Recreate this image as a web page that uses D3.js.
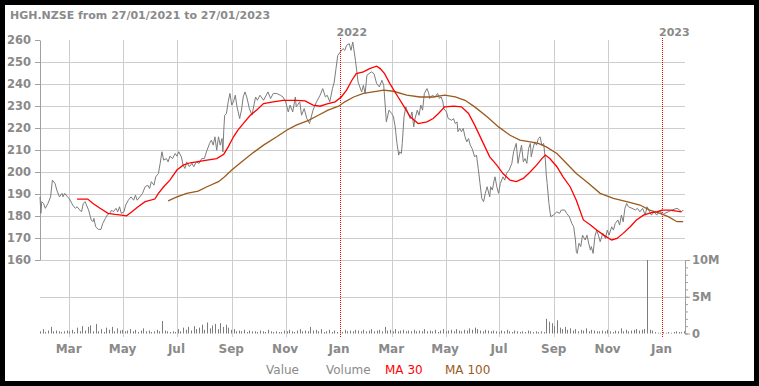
<!DOCTYPE html>
<html><head><meta charset="utf-8">
<script src="https://cdn.jsdelivr.net/npm/d3@7"></script>
<style>
html,body{margin:0;padding:0;background:#000;}
svg{display:block;}
text{font-family:"DejaVu Sans",Verdana,sans-serif;}
</style></head><body>
<svg id="chart" width="759" height="386"></svg>
<script>
// ---- data ----
const titleText = "HGH.NZSE from 27/01/2021 to 27/01/2023";
const startDate = new Date(2021, 0, 27);
const endDate = new Date(2023, 0, 27);
// days since 27/01/2021 and closing value
const priceDay = [0,1,2,4,6,9,12,14,17,19,22,25,26,28,31,33,37,40,42,45,47,49,51,55,58,60,61,63,66,69,71,74,76,79,81,83,86,88,90,92,95,97,100,103,106,108,110,113,116,119,122,124,126,129,131,134,136,138,140,143,145,147,150,153,155,157,160,162,164,166,169,172,174,177,180,183,186,189,192,194,196,198,200,202,204,206,207,208,209,211,213,215,217,219,221,223,226,228,230,232,234,237,240,241,244,246,249,253,258,261,264,268,272,275,278,281,283,286,289,290,294,296,299,302,305,306,309,313,317,320,323,325,328,331,333,335,337,340,343,345,347,350,352,354,357,360,364,366,368,370,375,378,381,384,387,389,390,392,395,398,400,402,404,406,407,409,410,412,414,416,419,421,423,424,427,429,431,433,435,438,440,441,444,447,450,452,454,456,457,460,462,466,468,470,472,473,475,477,479,481,483,485,487,489,492,494,496,498,500,502,504,506,509,510,512,514,515,517,519,521,524,526,528,531,534,536,539,541,543,545,547,549,551,553,555,556,558,560,562,564,566,568,570,572,573,574,576,578,581,585,588,590,594,596,599,602,604,606,607,608,610,612,614,617,619,621,623,624,626,628,630,632,634,637,640,642,644,647,649,651,654,656,658,660,662,664,666,670,674,676,679,682,685,687,690,692,695,698,702,704,707,711,715,721,724,726,728];
const priceValue = [188.7,181.2,186.5,185.7,183.5,185.7,188.7,196.3,194.8,191.8,188.7,190.3,188.7,190.3,188.7,188.0,185.0,183.5,184.2,182.7,181.9,185.7,186.5,182.7,178.2,177.4,178.9,175.1,173.9,173.9,176.6,178.9,180.4,181.2,182.7,181.9,183.5,181.9,184.2,181.2,181.9,185.0,187.2,188.7,187.2,189.5,187.2,188.7,190.3,193.3,194.0,192.5,195.6,194.0,197.8,199.3,203.9,209.2,205.4,206.1,204.6,207.2,206.1,208.4,207.2,209.2,206.9,203.1,201.6,204.6,202.4,203.9,202.4,204.6,203.9,206.1,206.1,209.9,213.0,214.5,212.2,216.0,209.9,216.0,212.2,215.2,209.2,219.0,225.8,226.6,231.9,235.7,230.4,231.9,234.9,229.6,224.3,228.1,234.1,236.4,234.1,228.8,225.8,228.1,234.1,232.6,234.9,232.6,236.4,233.4,235.7,235.7,234.9,234.1,231.9,227.3,230.4,227.3,234.1,229.6,231.9,225.8,228.8,224.3,222.0,223.5,228.1,231.9,234.9,237.9,234.1,234.9,231.9,237.9,240.9,247.0,253.0,254.6,256.1,255.3,257.6,258.3,255.3,259.1,250.8,240.9,236.4,239.4,235.7,244.0,245.5,244.7,240.2,238.7,241.7,239.4,234.1,222.8,228.1,226.6,225.1,220.5,213.0,207.7,209.2,208.4,213.0,225.1,229.6,227.3,224.3,227.3,220.5,223.5,228.1,225.8,230.4,228.1,235.7,237.9,235.7,233.4,234.9,234.1,235.7,233.4,234.1,231.9,228.8,227.3,224.3,223.5,224.3,222.0,222.8,218.3,219.8,218.3,219.8,216.0,213.7,215.2,212.2,210.7,206.9,207.7,201.6,194.8,188.0,186.5,190.3,193.3,188.7,193.3,191.8,196.3,197.8,193.3,190.3,194.8,197.8,196.3,199.3,200.9,203.9,209.2,213.0,203.9,208.4,212.2,204.6,206.1,203.9,210.7,213.0,206.9,210.7,213.7,212.2,215.2,216.0,212.2,213.0,205.4,198.6,194.8,185.7,179.7,180.4,181.9,181.2,182.7,182.7,181.2,179.7,176.6,175.1,169.1,163.8,163.0,167.6,166.1,171.3,169.1,171.3,167.6,164.5,166.1,163.0,170.6,173.6,171.3,168.3,172.1,169.8,173.6,171.3,175.1,173.6,176.6,178.2,175.9,180.4,177.4,183.5,185.7,184.2,183.5,182.7,183.5,181.9,183.5,180.4,184.2,181.9,180.4,181.9,180.4,182.7,180.4,181.2,181.9,182.7,183.5,182.7,181.9,182.7];
const ma30Day = [42,54,60,68,77,85,92,98,104,111,119,130,134,140,147,155,162,170,177,189,200,208,213,219,224,230,238,245,253,264,275,290,300,309,317,324,334,341,347,353,358,366,373,381,385,390,396,404,411,419,428,438,445,451,458,468,477,485,492,500,509,517,524,532,539,547,555,562,568,572,577,585,592,600,607,615,623,630,638,647,653,660,668,675,683,692,698,704,713,726];
const ma30Value = [187.7,187.7,185.7,183.5,181.2,180.7,180.4,180.1,181.9,184.2,186.5,187.7,190.3,193.3,196.3,200.9,203.1,204.2,204.6,205.4,206.1,208.1,211.4,216.0,219.0,222.0,225.8,228.1,231.1,231.9,232.6,232.6,232.3,230.4,229.9,230.8,231.9,234.1,237.2,241.7,244.7,245.5,247.0,248.1,247.0,244.7,240.2,234.9,230.4,225.1,222.0,222.8,224.3,226.6,229.6,229.9,229.6,226.6,221.3,214.5,206.9,203.1,199.3,196.3,195.6,197.1,200.1,203.1,206.1,207.7,206.1,202.4,197.8,193.3,187.2,178.2,175.9,173.6,171.3,169.1,169.8,172.1,175.1,178.2,180.4,181.5,181.9,182.7,182.7,181.9];
const ma100Day = [145,155,166,179,189,202,209,217,228,240,253,268,279,290,304,315,326,338,345,355,366,377,389,400,415,430,445,458,470,481,492,506,519,532,543,555,564,573,585,596,607,621,634,649,664,679,690,702,711,721,728];
const ma100Value = [186.9,188.7,190.3,191.3,193.3,195.6,197.8,200.9,204.6,208.4,212.2,216.0,219.0,221.3,223.5,225.8,228.1,229.9,231.9,234.1,235.7,236.4,237.2,236.7,234.9,234.1,234.1,234.9,234.1,232.6,229.6,225.1,220.5,216.7,214.5,213.7,213.0,211.4,208.4,203.9,199.3,194.8,190.3,188.0,186.5,185.0,182.7,181.2,179.7,177.4,177.4];
// volume in millions, one bar per 3 days from 27/01/2021
const volumeM = [
0.3,0.6,0.2,0.4,0.9,0.3,0.4,0.3,0.2,0.3,0.4,
0.3,0.5,0.2,0.8,0.3,1.0,0.4,0.9,1.1,0.3,
1.3,0.3,0.6,0.2,0.8,0.5,0.9,0.3,0.7,0.4,
0.5,0.3,0.4,0.6,0.3,0.5,0.2,0.4,0.7,0.3,
0.4,0.2,0.3,0.5,0.3,1.7,0.4,0.3,0.2,0.3,
0.2,0.6,0.3,0.8,0.5,0.9,0.4,1.0,0.6,0.8,
1.2,0.5,1.5,0.7,1.1,1.3,0.6,1.4,0.9,1.2,
0.8,0.5,0.6,0.3,0.4,0.3,0.5,0.2,0.4,0.3,
0.3,0.2,0.4,0.3,0.2,0.5,0.3,0.2,0.3,0.2,
0.2,0.4,0.3,0.5,0.3,0.2,0.4,0.6,0.3,0.4,
0.3,0.9,0.4,0.5,0.3,0.6,0.2,0.3,0.5,0.2,
0.4,0.2,0.3,0.2,0.5,0.3,0.4,0.3,0.5,0.4,
0.3,0.5,0.3,0.4,0.6,0.3,0.4,0.5,0.3,0.9,
0.4,0.5,0.3,0.6,0.3,0.4,0.5,0.3,0.4,0.3,
0.5,0.3,0.4,0.3,0.6,0.3,0.4,0.3,0.5,0.2,
0.4,0.6,0.3,0.4,0.5,0.3,0.6,0.4,0.3,0.5,
0.4,0.7,0.5,0.8,0.6,0.4,0.3,0.5,0.4,0.3,
0.4,0.3,0.2,0.4,0.3,0.5,0.3,0.2,0.4,0.3,
0.2,0.3,0.2,0.4,0.3,0.2,0.3,0.2,0.3,0.2,
2.0,1.6,1.4,1.0,1.8,0.8,0.6,0.9,0.5,0.7,
0.4,0.6,0.3,0.5,0.4,0.7,0.3,0.5,0.4,0.3,
0.3,0.4,0.3,0.5,0.3,0.2,0.4,0.3,0.7,0.3,
0.5,0.3,0.4,0.5,0.6,0.4,0.5,0.6,10.0,0.5,
0.4,0.2,0.1,0.1,0.2,0.1,0.2,0.1,0.2,0.3,0.2,0.2,0.3];
const priceTicks = [160,170,180,190,200,210,220,230,240,250,260];
const volumeTicks = [0, 5e6, 10e6];
const volumeTickLabels = ["0","5M","10M"];
const legendItems = ["Value","Volume","MA 30","MA 100"];

// ---- styles ----
const C = {text:"#8a8a8a", grid:"#cdcdcd", axis:"#a0a0a0", price:"#7c7c7c", vol:"#7c7c7c", ma30:"#ff0000", ma100:"#9a5a1e", year:"#ff0000"};

const svg = d3.select("#chart");
svg.append("rect").attr("x",5).attr("y",5).attr("width",749).attr("height",376).attr("fill","#fff");

const x = d3.scaleTime().domain([startDate, endDate]).range([40, 685]);
const y = d3.scaleLinear().domain([160, 260]).range([260, 40]);
const yV = d3.scaleLinear().domain([0, 10e6]).range([333.5, 260]);
const dayDate = d => d3.timeDay.offset(startDate, d);

// title
svg.append("text").attr("x",10).attr("y",19).attr("fill",C.text)
  .attr("font-size",11).attr("font-weight","bold").text(titleText);

// grid
const gGrid = svg.append("g");
gGrid.selectAll("line.h").data(priceTicks.filter(t => t < 260)).join("line")
  .attr("x1",40).attr("x2",685).attr("y1",d=>Math.round(y(d))+0.5).attr("y2",d=>Math.round(y(d))+0.5)
  .attr("stroke",C.grid);
gGrid.append("line").attr("x1",40).attr("x2",685)
  .attr("y1",Math.round(yV(5e6))+0.5).attr("y2",Math.round(yV(5e6))+0.5).attr("stroke",C.grid);
const monthTicks = x.ticks(d3.timeMonth.every(2));
gGrid.selectAll("line.v").data(monthTicks.filter(d => d.getMonth() !== 0)).join("line")
  .attr("x1",d=>Math.round(x(d))+0.5).attr("x2",d=>Math.round(x(d))+0.5).attr("y1",40).attr("y2",337)
  .attr("stroke",C.grid);

// year markers
const years = monthTicks.filter(d => d.getMonth() === 0);
svg.selectAll("line.yr").data(years).join("line")
  .attr("x1",d=>Math.round(x(d))+0.5).attr("x2",d=>Math.round(x(d))+0.5).attr("y1",38).attr("y2",337)
  .attr("stroke",C.year).attr("stroke-dasharray","1,1");
svg.selectAll("text.yr").data(years).join("text")
  .attr("x",d=>x(d)-3).attr("y",36).attr("fill",C.text).attr("font-size",11).attr("font-weight","bold")
  .text(d3.timeFormat("%Y"));

// left axis
const ax = svg.append("g").attr("transform","translate(40,0)")
  .call(d3.axisLeft(y).tickValues(priceTicks).tickSize(5).tickSizeOuter(0).tickPadding(4));
ax.select(".domain").attr("stroke",C.axis);
ax.selectAll(".tick line").attr("stroke",C.axis);
ax.selectAll(".tick text").attr("fill",C.text).attr("font-size",11.5).attr("font-weight","bold")
  .attr("font-family","DejaVu Sans");

// right volume axis
const axMinor = svg.append("g").attr("transform","translate(685,0)")
  .call(d3.axisRight(yV).tickValues(d3.range(0, 10.5e6, 1e6)).tickSize(3).tickSizeOuter(0).tickFormat(""));
axMinor.selectAll("line,path").attr("stroke",C.axis);
const axV = svg.append("g").attr("transform","translate(685,0)")
  .call(d3.axisRight(yV).tickValues(volumeTicks).tickSize(5).tickSizeOuter(0).tickPadding(2)
    .tickFormat((d,i) => volumeTickLabels[i]));
axV.select(".domain").attr("stroke",C.axis);
axV.selectAll(".tick line").attr("stroke",C.axis);
axV.selectAll(".tick text").attr("fill",C.text).attr("font-size",11.5).attr("font-weight","bold")
  .attr("font-family","DejaVu Sans");

// bottom month labels
const axB = svg.append("g").attr("transform","translate(-1,342)")
  .call(d3.axisBottom(x).tickValues(monthTicks).tickSize(0).tickPadding(0).tickFormat(d3.timeFormat("%b")));
axB.select(".domain").remove();
axB.selectAll(".tick text").attr("fill",C.text).attr("font-size",12).attr("font-weight","bold")
  .attr("font-family","DejaVu Sans").attr("dy","0.95em");

// volume bars
const volDates = d3.timeDay.range(startDate, endDate, 3);
svg.append("g").selectAll("rect").data(volumeM).join("rect")
  .attr("x",(d,i)=>Math.round(x(volDates[i])))
  .attr("width",1)
  .attr("y",d=>yV(d*1e6)).attr("height",d=>yV(0)-yV(d*1e6))
  .attr("fill",C.vol);

// lines
const line = d3.line().x(d=>x(d[0])).y(d=>y(d[1]));
function series(days, vals){ return days.map((d,i)=>[dayDate(d), vals[i]]); }
svg.append("path").datum(series(priceDay, priceValue)).attr("d",line)
  .attr("fill","none").attr("stroke",C.price).attr("stroke-width",1);
svg.append("path").datum(series(ma100Day, ma100Value)).attr("d",line)
  .attr("fill","none").attr("stroke",C.ma100).attr("stroke-width",1.3);
svg.append("path").datum(series(ma30Day, ma30Value)).attr("d",line)
  .attr("fill","none").attr("stroke",C.ma30).attr("stroke-width",1.3);

// legend
const legendX = [266, 326, 385, 445];
const legendColor = [C.text, C.text, C.ma30, C.ma100];
svg.append("g").selectAll("text").data(legendItems).join("text")
  .attr("x",(d,i)=>legendX[i]).attr("y",374).attr("fill",(d,i)=>legendColor[i])
  .attr("font-size",12).text(d=>d);
</script>
</body></html>
